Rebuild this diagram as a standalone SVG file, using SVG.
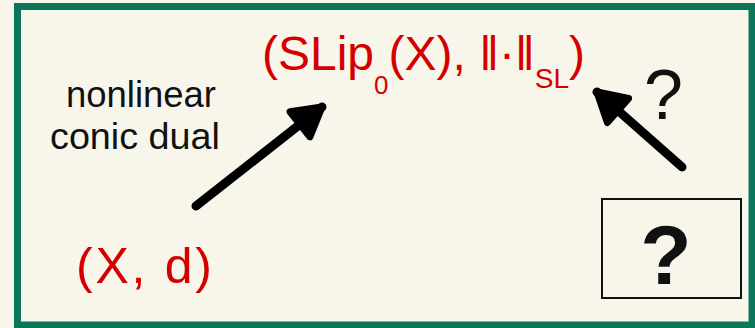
<svg xmlns="http://www.w3.org/2000/svg" width="755" height="328" viewBox="0 0 755 328">
<style>
.red{fill:#d40000;font-family:"Liberation Sans","DejaVu Sans",sans-serif;}
.blk{fill:#111;font-family:"Liberation Sans","DejaVu Sans",sans-serif;}
.arrow{stroke:#000;stroke-width:9;stroke-linecap:round;fill:none;}
</style>
<defs>
<marker id="head" markerUnits="userSpaceOnUse" markerWidth="60" markerHeight="60" refX="0" refY="0" viewBox="-40 -30 60 60" orient="auto" overflow="visible">
<path d="M-28,-16 L0,0 L-28,16 Z" fill="#000" stroke="#000" stroke-width="7" stroke-linejoin="round"/>
</marker>
</defs>
<rect x="0" y="0" width="755" height="328" fill="#f8f6ea"/>
<rect x="17.5" y="6.5" width="734.5" height="318.5" fill="#f8f6ea" stroke="#0a765a" stroke-width="7"/>
<g id="node-slip">
<text class="red" x="262" y="70" font-size="48">(SLip<tspan font-size="26" dy="24">0</tspan><tspan dy="-24">(X), ‖·‖</tspan><tspan font-size="28" dy="18">SL</tspan><tspan dy="-18">)</tspan></text>
</g>
<g id="node-xd">
<text class="red" x="76" y="283" font-size="50" textLength="136" lengthAdjust="spacing">(X, d)</text>
</g>
<g id="label-dual">
<text class="blk" x="66" y="107" font-size="36" textLength="150" lengthAdjust="spacingAndGlyphs">nonlinear</text>
<text class="blk" x="50" y="149" font-size="36" textLength="170" lengthAdjust="spacingAndGlyphs">conic dual</text>
</g>
<g id="label-q">
<text class="blk" x="644" y="119" font-size="70">?</text>
</g>
<g id="node-unknown">
<rect x="602" y="199" width="139" height="99" fill="none" stroke="#111" stroke-width="2"/>
<text class="blk" x="666" y="284" font-size="84" font-weight="bold" text-anchor="middle">?</text>
</g>
<g id="connectors">
<line class="arrow" x1="196" y1="206" x2="322" y2="107" marker-end="url(#head)"/>
<line class="arrow" x1="682" y1="167" x2="597" y2="92" marker-end="url(#head)"/>
</g>
</svg>
